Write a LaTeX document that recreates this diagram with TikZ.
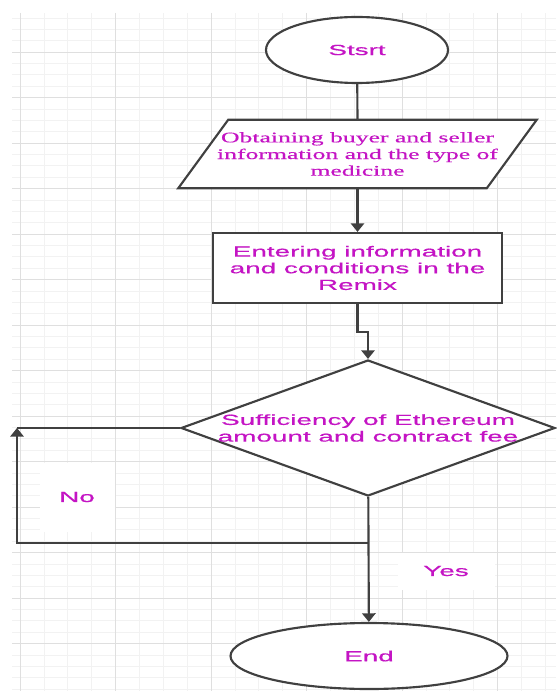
\documentclass[tikz,border=0pt]{standalone}
\usepackage{fontspec}
\newfontfamily\flowsans[FakeStretch=1.9, FakeBold=0.6]{Liberation Sans}
\newfontfamily\flowserif[FakeStretch=1.75, FakeBold=0.4]{Liberation Serif}
\usetikzlibrary{shapes.geometric, arrows.meta, calc, backgrounds}
\definecolor{labelpink}{RGB}{196,20,196}
\definecolor{flowline}{RGB}{64,64,64}

\begin{document}
\begin{tikzpicture}[x=0.75pt, y=-0.75pt,
  gridminor/.style={draw=gray!10, line width=0.4pt},
  gridmajor/.style={draw=gray!25, line width=0.6pt},
  flowtext/.style={text=labelpink, font=\flowsans\fontsize{11}{12.5}\selectfont, align=center},
  flowbox/.style={draw=flowline, line width=1.6pt, fill=white, inner sep=0pt},
  flowarrow/.style={draw=flowline, line width=1.6pt, -{Triangle[width=10pt,length=6.5pt]}}]
\useasboundingbox (0,0) rectangle (556,691);

% background grid
\begin{pgfonlayer}{background}
\foreach \k in {0,...,22} \draw[gridminor] ({20+23.875*\k},13) -- ({20+23.875*\k},691);
\foreach \k in {-3,...,56} \draw[gridminor] (12,{52+11.375*\k}) -- (556,{52+11.375*\k});
\foreach \k in {0,...,5} \draw[gridmajor] ({20+95.5*\k},13) -- ({20+95.5*\k},691);
\foreach \k in {0,...,13} \draw[gridmajor] (12,{52+45.5*\k}) -- (556,{52+45.5*\k});
\end{pgfonlayer}

\node[ellipse, flowbox, flowtext, minimum width=136.5pt, minimum height=49.5pt](start) at (357,50) {Stsrt};
\node[flowtext, font=\flowserif\fontsize{11}{12.5}\selectfont, minimum width=231pt, minimum height=51pt, inner sep=0pt](obtain) at (357.5,154) {Obtaining buyer and seller\\information and the type of\\medicine};
\node[rectangle, flowbox, flowtext, minimum width=216.75pt, minimum height=52.5pt](enter) at (357.5,268) {Entering information\\and conditions in the\\Remix};
\node[diamond, flowbox, minimum width=280.5pt, minimum height=102pt,
  label={[flowtext]center:Sufficiency of Ethereum\\amount and contract fee}](dec) at (368,428) {};
\node[ellipse, flowbox, flowtext, minimum width=207.75pt, minimum height=49.5pt](end) at (369,656) {End};

\node[flowtext, fill=white, minimum width=56.25pt, minimum height=51.75pt](no) at (77,497) {No};
\node[flowtext, fill=white, minimum width=72.75pt, minimum height=27.75pt](yes) at (446,571) {Yes};

\coordinate(jog) at (368,332);
\coordinate(nojoin) at (368,543);
\coordinate(nocorner) at (17,428);

% parallelogram outline
\begin{pgfonlayer}{background}
\draw[flowbox] ($(obtain.north west)+(25,0)$) -- ($(obtain.north east)+(25,0)$)
  -- ($(obtain.south east)+(-25,0)$) -- ($(obtain.south west)+(-25,0)$) -- cycle;
\end{pgfonlayer}

\draw[flowbox] (start) -- (obtain.north);
\draw[flowarrow] (obtain.south) -- (enter);
\draw[flowarrow] (enter) |- (jog) -- (dec.north);
\draw[flowarrow] (dec) -- (end);
\draw[flowarrow] (nojoin) -| (nocorner);
\draw[flowbox] (nocorner) -- (dec.west);
\end{tikzpicture}
\end{document}
